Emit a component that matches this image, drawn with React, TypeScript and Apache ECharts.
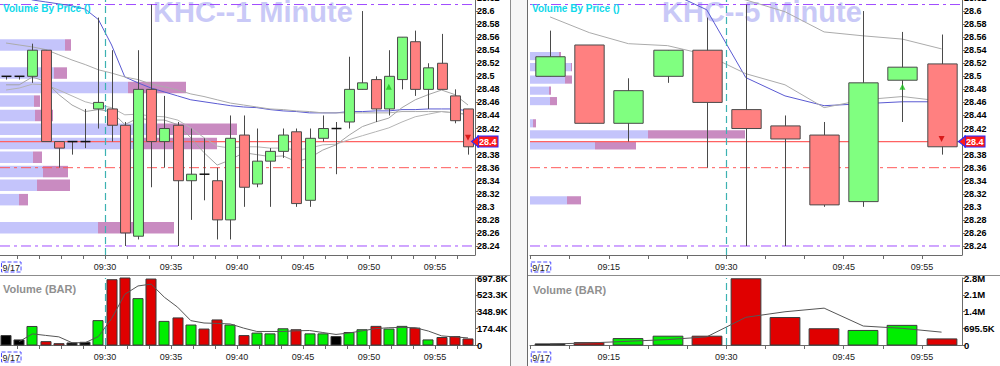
import { useEffect, useRef } from 'react';
import * as echarts from 'echarts';

const FONT = 'Arial, "Liberation Sans", sans-serif';

// ---------------- shared price scale ----------------
const priceTicks = [28.24, 28.26, 28.28, 28.3, 28.32, 28.34, 28.36, 28.38, 28.4, 28.42, 28.44, 28.46, 28.48, 28.5, 28.52, 28.54, 28.56, 28.58, 28.6, 28.62];
const priceAxisMin = 28.2262;
const priceAxisMax = 28.62;
const sessionHigh = 28.61;
const sessionLow = 28.24;
const priorClose = 28.36;
const lastPrice = 28.4;
const marketOpen = '09:30';

// ---------------- LEFT PANEL: KHC 1 minute ----------------
const leftTitle = 'KHC--1 Minute';
const leftTimes = ['09:22', '09:23', '09:24', '09:25', '09:26', '09:27', '09:28', '09:29', '09:30', '09:31', '09:32', '09:33', '09:34', '09:35', '09:36', '09:37', '09:38', '09:39', '09:40', '09:41', '09:42', '09:43', '09:44', '09:45', '09:46', '09:47', '09:48', '09:49', '09:50', '09:51', '09:52', '09:53', '09:54', '09:55', '09:56', '09:57'];
const leftOpen = [28.5, 28.5, 28.5, 28.54, 28.4, 28.4, 28.4, 28.45, 28.45, 28.425, 28.255, 28.48, 28.4, 28.425, 28.34, 28.35, 28.34, 28.28, 28.41, 28.335, 28.37, 28.385, 28.415, 28.31, 28.405, 28.42, 28.43, 28.48, 28.495, 28.45, 28.495, 28.553, 28.48, 28.52, 28.47, 28.45];
const leftHigh = [28.5, 28.5, 28.55, 28.54, 28.4, 28.4, 28.45, 28.59, 28.54, 28.43, 28.54, 28.61, 28.47, 28.43, 28.42, 28.405, 28.36, 28.44, 28.44, 28.42, 28.39, 28.42, 28.42, 28.42, 28.44, 28.43, 28.53, 28.6, 28.5, 28.54, 28.56, 28.57, 28.52, 28.565, 28.48, 28.45];
const leftLow = [28.495, 28.495, 28.49, 28.4, 28.36, 28.38, 28.39, 28.42, 28.4, 28.24, 28.25, 28.33, 28.36, 28.24, 28.28, 28.31, 28.25, 28.25, 28.3, 28.33, 28.3, 28.375, 28.3, 28.3, 28.4, 28.35, 28.42, 28.48, 28.43, 28.44, 28.48, 28.47, 28.45, 28.48, 28.428, 28.38];
const leftClose = [28.5, 28.5, 28.54, 28.4, 28.39, 28.4, 28.4, 28.46, 28.425, 28.26, 28.48, 28.4, 28.42, 28.34, 28.35, 28.35, 28.28, 28.405, 28.33, 28.37, 28.385, 28.41, 28.305, 28.405, 28.42, 28.42, 28.48, 28.49, 28.45, 28.5, 28.56, 28.48, 28.513, 28.48, 28.432, 28.392];
const leftVolume = [98000, 53000, 193000, 35000, 14000, 21000, 28000, 254000, 680000, 697800, 483000, 687000, 246000, 282000, 208000, 166000, 261000, 208000, 98000, 124000, 116000, 169000, 159000, 116000, 116000, 88000, 130000, 159000, 194000, 166000, 194000, 176000, 53000, 78000, 88000, 63000];
const leftVolumeColor = ['k', 'k', 'g', 'r', 'r', 'k', 'k', 'g', 'r', 'r', 'g', 'r', 'g', 'r', 'g', 'r', 'r', 'g', 'r', 'g', 'g', 'g', 'r', 'g', 'g', 'k', 'g', 'g', 'r', 'g', 'g', 'r', 'g', 'r', 'r', 'r'];
const leftVolumeAvg = [null, 35000, 116000, 100000, 85000, 24000, 24000, 88000, 275000, 528000, 615000, 634000, 497000, 394000, 254000, 229000, 225000, 219000, 176000, 141000, 141000, 141000, 148000, 151000, 130000, 110000, 125000, 148000, 170000, 180000, 183000, 180000, 145000, 95000, 84000, 74000];
const leftVwap = [28.632, 28.625, 28.617, 28.614, 28.611, 28.608, 28.603, 28.587, 28.548, 28.499, 28.49, 28.482, 28.476, 28.47, 28.464, 28.461, 28.458, 28.455, 28.453, 28.452, 28.449, 28.447, 28.446, 28.444, 28.444, 28.444, 28.446, 28.446, 28.447, 28.447, 28.449, 28.449, 28.45, 28.45, 28.45, 28.447];
const leftMaSlow = [28.551, 28.548, 28.545, 28.541, 28.533, 28.525, 28.518, 28.51, 28.505, 28.499, 28.495, 28.488, 28.484, 28.479, 28.473, 28.469, 28.464, 28.459, 28.456, 28.453, 28.45, 28.449, 28.447, 28.446, 28.444, 28.444, 28.444, 28.444, 28.444, 28.444, 28.446, 28.446, 28.446, 28.446, 28.444, 28.442];
const leftMaFast = [28.487, 28.487, 28.499, 28.492, 28.472, 28.456, 28.446, 28.449, 28.446, 28.426, 28.436, 28.433, 28.433, 28.426, 28.406, 28.383, 28.364, 28.372, 28.383, 28.38, 28.377, 28.378, 28.369, 28.375, 28.387, 28.395, 28.41, 28.423, 28.43, 28.436, 28.452, 28.464, 28.472, 28.479, 28.472, 28.456];
const leftMaMid = [28.479, 28.482, 28.488, 28.487, 28.479, 28.47, 28.461, 28.456, 28.452, 28.441, 28.442, 28.439, 28.438, 28.433, 28.421, 28.406, 28.393, 28.39, 28.392, 28.392, 28.39, 28.39, 28.387, 28.39, 28.395, 28.396, 28.403, 28.409, 28.415, 28.421, 28.43, 28.438, 28.442, 28.446, 28.444, 28.441];
const leftVbpPrice = [28.548, 28.505, 28.483, 28.462, 28.44, 28.419, 28.397, 28.376, 28.354, 28.333, 28.311, 28.268];
const leftVbpBuy = [65, 54, 128, 34, 35, 147, 143, 33, 43, 37, 19, 98];
const leftVbpSell = [6, 13, 58, 6, 18, 90, 74, 9, 25, 33, 9, 76];
const leftUpTimes = ['09:51'];
const leftUpPrices = [28.484];
const leftDownTimes = ['09:57'];
const leftDownPrices = [28.406];
const leftLabelMinutes = [22.9, 30, 35, 40, 45, 50, 55];
const leftLabels = ['9/17', '09:30', '09:35', '09:40', '09:45', '09:50', '09:55'];
const leftTickMinutes = [23.33, 25, 26.67, 28.33, 30, 31.67, 33.33, 35, 36.67, 38.33, 40, 41.67, 43.33, 45, 46.67, 48.33, 50, 51.67, 53.33, 55, 56.67];
const leftVolTicks = [0, 174450, 348900, 523350, 697800];
const leftVolLabels = ['0', '174.4K', '348.9K', '523.3K', '697.8K'];

// ---------------- RIGHT PANEL: KHC 5 minute ----------------
const rightTitle = 'KHC--5 Minute';
const rightTimes = ['09:05', '09:10', '09:15', '09:20', '09:25', '09:30', '09:35', '09:40', '09:45', '09:50', '09:55'];
const rightOpen = [28.5, 28.548, 28.428, 28.5, 28.54, 28.449, 28.424, 28.41, 28.308, 28.494, 28.519];
const rightHigh = [28.57, 28.548, 28.497, 28.54, 28.59, 28.61, 28.44, 28.43, 28.6, 28.568, 28.564];
const rightLow = [28.5, 28.428, 28.4, 28.49, 28.36, 28.24, 28.24, 28.3, 28.3, 28.43, 28.38];
const rightClose = [28.53, 28.428, 28.478, 28.54, 28.46, 28.42, 28.404, 28.303, 28.49, 28.514, 28.392];
const rightVolume = [45000, 98000, 267000, 366000, 366000, 2750000, 1140000, 675000, 604000, 815000, 253000];
const rightVolumeColor = ['k', 'r', 'g', 'g', 'r', 'r', 'r', 'r', 'g', 'g', 'r'];
const rightVolumeAvg = [42000, 84000, 155000, 225000, 337000, 1150000, 1380000, 1530000, 787000, 690000, 534000];
const rightVwap = [28.68, 28.665, 28.65, 28.63, 28.602, 28.498, 28.47, 28.455, 28.458, 28.461, 28.461];
const rightMaSlow = [null, null, null, null, 28.632, 28.617, 28.599, 28.568, 28.562, 28.557, 28.542];
const rightMaFast = [28.591, 28.567, 28.55, 28.547, 28.533, 28.504, 28.487, 28.452, 28.464, 28.469, 28.462];
const rightVbpPrice = [28.531, 28.514, 28.495, 28.478, 28.462, 28.428, 28.411, 28.394, 28.31];
const rightVbpBuy = [29, 41, 35, 19, 20, 3, 118, 65, 37];
const rightVbpSell = [2, 1, 7, 2, 7, 3, 97, 41, 14];
const rightUpTimes = ['09:50'];
const rightUpPrices = [28.484];
const rightDownTimes = ['09:55'];
const rightDownPrices = [28.404];
const rightLabelMinutes = [6.34, 15, 30, 45, 55];
const rightLabels = ['9/17', '09:15', '09:30', '09:45', '09:55'];
const rightTickMinutes = [5, 10, 15, 20, 25, 30, 35, 40, 45, 50, 55];
const rightVolTicks = [0, 695500, 1391000, 2086500, 2782000];
const rightVolLabels = ['0', '695.5K', '1.4M', '2.1M', '2.8M'];

const VOL_COLORS: Record<string, string> = { g: '#00ee00', r: '#e00000', k: '#000000' };
const toMin = (t: string) => parseInt(t.slice(0, 2), 10) * 60 + parseInt(t.slice(3), 10) - 540;

function buildPanel(cfg: any, gi: number, xi: number, yi: number) {
  const center = (t: string) => toMin(t) + cfg.period / 2;
  const xs = cfg.times.map(center);
  const fmtX = (v: number) => {
    const i = cfg.labelMinutes.findIndex((m: number) => Math.abs(m - v) < 1e-6);
    if (i < 0) return '';
    return i === 0 ? '{d|' + cfg.labels[0] + '}' : cfg.labels[i];
  };
  const xLabel = {
    customValues: cfg.labelMinutes,
    formatter: fmtX,
    fontSize: 9,
    color: '#222',
    fontFamily: FONT,
    margin: 7,
    rich: { d: { fontSize: 9, color: '#222', fontFamily: FONT, borderColor: '#4b4bff', borderWidth: 1, borderType: 'dashed', padding: [1, 1, 0, 1] } },
  };
  const axisLineStyle = { color: '#6a6a6a', width: 1 };
  const grids = [
    { left: cfg.left, top: -2, width: cfg.width, height: 257, containLabel: false, outerBoundsMode: 'none' },
    { left: cfg.left, top: 278, width: cfg.width, height: 67, containLabel: false, outerBoundsMode: 'none' },
  ];
  const xAxes = [
    {
      type: 'value', gridIndex: gi, min: cfg.xMin, max: cfg.xMax,
      axisLine: { show: true, onZero: false, lineStyle: axisLineStyle },
      axisTick: { show: true, customValues: cfg.tickMinutes, length: 4, lineStyle: axisLineStyle },
      axisLabel: xLabel, splitLine: { show: false },
    },
    { type: 'value', gridIndex: gi, min: 0, max: cfg.vbpMax, show: false },
    {
      type: 'value', gridIndex: gi + 1, min: cfg.xMin, max: cfg.xMax,
      axisLine: { show: true, onZero: false, lineStyle: axisLineStyle },
      axisTick: { show: true, customValues: cfg.tickMinutes, length: 4, lineStyle: axisLineStyle },
      axisLabel: xLabel, splitLine: { show: false },
    },
  ];
  const yAxes = [
    {
      type: 'value', gridIndex: gi, position: 'right', min: priceAxisMin, max: priceAxisMax,
      axisLine: { show: true, onZero: false, lineStyle: axisLineStyle },
      axisTick: { show: true, customValues: priceTicks, length: 3, lineStyle: axisLineStyle },
      axisLabel: { customValues: priceTicks, formatter: (v: number) => String(v), fontSize: 9, fontWeight: 'bold', color: '#000', fontFamily: FONT, margin: 2 },
      splitLine: { show: false },
    },
    {
      type: 'value', gridIndex: gi + 1, position: 'right', min: 0, max: cfg.volTicks[cfg.volTicks.length - 1],
      axisLine: { show: true, onZero: false, lineStyle: axisLineStyle },
      axisTick: { show: true, customValues: cfg.volTicks, length: 3, lineStyle: axisLineStyle },
      axisLabel: {
        customValues: cfg.volTicks,
        formatter: (v: number) => {
          const i = cfg.volTicks.findIndex((t: number) => Math.abs(t - v) < 1);
          return i < 0 ? '' : cfg.volLabels[i];
        },
        fontSize: 9.5, fontWeight: 'bold', color: '#000', fontFamily: FONT, margin: 2,
      },
      splitLine: { show: false },
    },
  ];

  const dashDot = [10, 4, 3, 4];
  const series: any[] = [];
  // volume by price
  series.push({
    type: 'custom', xAxisIndex: xi + 1, yAxisIndex: yi, z: 1, silent: true,
    data: cfg.vbpPrice.map((p: number, i: number) => [p, cfg.vbpBuy[i], cfg.vbpSell[i]]),
    encode: { x: [1, 2], y: 0 },
    renderItem: (_p: any, api: any) => {
      const price = api.value(0), buy = api.value(1), sell = api.value(2);
      const h = Math.abs(api.size([0, cfg.vbpBin])[1]);
      const a = api.coord([0, price]);
      const b = api.coord([buy, price]);
      const c = api.coord([buy + sell, price]);
      return {
        type: 'group',
        children: [
          { type: 'rect', shape: { x: a[0], y: a[1] - h / 2, width: b[0] - a[0], height: h }, style: { fill: '#c4c4fb' } },
          { type: 'rect', shape: { x: b[0], y: a[1] - h / 2, width: c[0] - b[0], height: h }, style: { fill: '#c98bc1' } },
        ],
      };
    },
  });
  // horizontal reference levels as plain line series
  const level = (v: number, color: string, type: any, width: number) => ({
    type: 'line', xAxisIndex: xi, yAxisIndex: yi, z: 2, silent: true,
    data: [[cfg.xMin, v], [cfg.xMax, v]], showSymbol: false, symbol: 'none',
    lineStyle: { color, type, width }, itemStyle: { color },
  });
  series.push(level(sessionHigh, '#a04cff', dashDot, 1));
  series.push(level(sessionLow, '#a04cff', dashDot, 1));
  series.push(level(priorClose, '#ff5a5a', dashDot, 1));
  series.push(level(lastPrice, '#ff6262', 'solid', 1.3));
  // moving average / vwap lines
  cfg.maLines.forEach((ln: any, k: number) => {
    const s: any = {
      type: 'line', xAxisIndex: xi, yAxisIndex: yi, z: 2, silent: true,
      data: xs.map((x: number, i: number) => [x, ln.data[i]]),
      showSymbol: false, symbol: 'none', connectNulls: false,
      lineStyle: { color: ln.color, width: 1 }, itemStyle: { color: ln.color },
    };
    if (k === 0) {
      s.markLine = {
        silent: true, symbol: ['none', 'none'], animation: false, z: 5,
        label: { show: false },
        data: [
          { xAxis: toMin(marketOpen), lineStyle: { color: '#3cb2b2', type: [7, 4], width: 1.2 } },
          {
            yAxis: lastPrice, lineStyle: { color: 'rgba(255,80,80,0)', width: 0 },
            label: {
              show: true, position: 'end', distance: 3, formatter: (p: any) => String(p.value),
              color: '#fff', fontWeight: 'bold', fontSize: 9, fontFamily: FONT, opacity: 1,
              backgroundColor: '#ff1a1a', borderColor: '#2a2aff', borderWidth: 1, padding: [1, 1, 0, 1],
            },
          },
        ],
      };
      s.markPoint = {
        silent: true, animation: false, z: 6,
        data: [{
          coord: [cfg.xMax, lastPrice], symbol: 'path://M0,5L7,0L7,10Z', symbolSize: [7, 11],
          itemStyle: { color: '#ff1a1a', borderColor: '#2a2aff', borderWidth: 1 }, label: { show: false },
        }],
      };
    }
    series.push(s);
  });
  // candles
  series.push({
    type: 'custom', xAxisIndex: xi, yAxisIndex: yi, z: 3, silent: true,
    data: xs.map((x: number, i: number) => [x, cfg.open[i], cfg.high[i], cfg.low[i], cfg.close[i]]),
    encode: { x: 0, y: [1, 2, 3, 4] },
    renderItem: (_p: any, api: any) => {
      const x = api.value(0), o = api.value(1), h = api.value(2), l = api.value(3), c = api.value(4);
      const po = api.coord([x, o]), pc = api.coord([x, c]), ph = api.coord([x, h]), pl = api.coord([x, l]);
      const w = api.size([cfg.period, 0])[0] * 0.75;
      const cx = Math.round(po[0]) + 0.5;
      const children: any[] = [
        { type: 'line', shape: { x1: cx, y1: ph[1], x2: cx, y2: pl[1] }, style: { stroke: '#4a4a4a', lineWidth: 1 } },
      ];
      if (o === c) {
        children.push({ type: 'line', shape: { x1: cx - w / 2, y1: po[1], x2: cx + w / 2, y2: po[1] }, style: { stroke: '#111', lineWidth: 1.5 } });
      } else {
        const top = Math.min(po[1], pc[1]);
        const hh = Math.max(Math.abs(po[1] - pc[1]), 1);
        children.push({
          type: 'rect', shape: { x: cx - w / 2, y: top, width: w, height: hh },
          style: { fill: c > o ? '#80ff80' : '#ff8080', stroke: '#4a4a4a', lineWidth: 1 },
        });
      }
      return { type: 'group', children };
    },
  });
  // signal triangles
  series.push({
    type: 'scatter', xAxisIndex: xi, yAxisIndex: yi, z: 4, silent: true, symbol: 'triangle', symbolSize: 6,
    data: cfg.upTimes.map((t: string, i: number) => [center(t), cfg.upPrices[i]]),
    itemStyle: { color: '#19c019' },
  });
  series.push({
    type: 'scatter', xAxisIndex: xi, yAxisIndex: yi, z: 4, silent: true, symbol: 'triangle', symbolSize: 6, symbolRotate: 180,
    data: cfg.downTimes.map((t: string, i: number) => [center(t), cfg.downPrices[i]]),
    itemStyle: { color: '#d00000' },
  });
  // volume bars
  series.push({
    type: 'custom', xAxisIndex: xi + 2, yAxisIndex: yi + 1, z: 2, silent: true,
    data: xs.map((x: number, i: number) => [x, cfg.volume[i]]),
    encode: { x: 0, y: 1 },
    renderItem: (params: any, api: any) => {
      const x = api.value(0), v = api.value(1);
      const top = api.coord([x, v]);
      const base = api.coord([x, 0]);
      const w = api.size([cfg.period, 0])[0] * 0.76;
      const cx = Math.round(top[0]);
      return {
        type: 'rect', shape: { x: cx - w / 2, y: top[1], width: w, height: base[1] - top[1] },
        style: { fill: VOL_COLORS[cfg.volColor[params.dataIndex]], stroke: '#3a3a3a', lineWidth: 1 },
      };
    },
  });
  // volume average
  series.push({
    type: 'line', xAxisIndex: xi + 2, yAxisIndex: yi + 1, z: 3, silent: true,
    data: xs.map((x: number, i: number) => [x, cfg.volAvg[i]]),
    showSymbol: false, symbol: 'none', connectNulls: false,
    lineStyle: { color: '#555', width: 1 }, itemStyle: { color: '#555' },
    markLine: {
      silent: true, symbol: ['none', 'none'], animation: false, label: { show: false },
      data: [{ xAxis: toMin(marketOpen), lineStyle: { color: '#3cb2b2', type: [7, 4], width: 1.2 } }],
    },
  });
  return { grids, xAxes, yAxes, series };
}

const leftCfg = {
  period: 1, times: leftTimes, open: leftOpen, high: leftHigh, low: leftLow, close: leftClose,
  volume: leftVolume, volColor: leftVolumeColor, volAvg: leftVolumeAvg,
  maLines: [
    { data: leftVwap, color: '#5a5ad2' },
    { data: leftMaSlow, color: '#ababab' },
    { data: leftMaMid, color: '#b4b4b4' },
    { data: leftMaFast, color: '#a4a4a4' },
  ],
  vbpPrice: leftVbpPrice, vbpBuy: leftVbpBuy, vbpSell: leftVbpSell, vbpMax: 475, vbpBin: 0.0176,
  upTimes: leftUpTimes, upPrices: leftUpPrices, downTimes: leftDownTimes, downPrices: leftDownPrices,
  xMin: 22.045, xMax: 58.03, tickMinutes: leftTickMinutes, labelMinutes: leftLabelMinutes, labels: leftLabels,
  volTicks: leftVolTicks, volLabels: leftVolLabels, left: 0, width: 475,
};
const rightCfg = {
  period: 5, times: rightTimes, open: rightOpen, high: rightHigh, low: rightLow, close: rightClose,
  volume: rightVolume, volColor: rightVolumeColor, volAvg: rightVolumeAvg,
  maLines: [
    { data: rightVwap, color: '#5a5ad2' },
    { data: rightMaSlow, color: '#ababab' },
    { data: rightMaFast, color: '#ababab' },
  ],
  vbpPrice: rightVbpPrice, vbpBuy: rightVbpBuy, vbpSell: rightVbpSell, vbpMax: 432, vbpBin: 0.0125,
  upTimes: rightUpTimes, upPrices: rightUpPrices, downTimes: rightDownTimes, downPrices: rightDownPrices,
  xMin: 4.936, xMax: 60.11, tickMinutes: rightTickMinutes, labelMinutes: rightLabelMinutes, labels: rightLabels,
  volTicks: rightVolTicks, volLabels: rightVolLabels, left: 530, width: 432,
};

export default function App() {
  const ref = useRef<HTMLDivElement>(null);
  useEffect(() => {
    document.body.style.margin = '0';
    if (!ref.current) return;
    const chart = echarts.init(ref.current, undefined, { renderer: 'svg' });
    const L = buildPanel(leftCfg, 0, 0, 0);
    const R = buildPanel(rightCfg, 2, 3, 2);
    const text = (x: number, y: number, s: string, size: number, weight: string, fill: string, z = 0) => ({
      type: 'text', x, y, z, silent: true,
      style: { text: s, fontSize: size, fontWeight: weight, fontFamily: FONT, fill, align: 'left', verticalAlign: 'middle' },
    });
    const line = (x1: number, y1: number, x2: number, y2: number, stroke: string) => ({
      type: 'line', silent: true, z: 20, shape: { x1, y1, x2, y2 }, style: { stroke, lineWidth: 1 },
    });
    chart.setOption({
      animation: false,
      backgroundColor: '#ffffff',
      grid: [...L.grids, ...R.grids],
      xAxis: [...L.xAxes, ...R.xAxes],
      yAxis: [...L.yAxes, ...R.yAxes],
      series: [...L.series, ...R.series],
      graphic: [
        text(153, 12, leftTitle, 29, 'bold', '#c9c9f7'),
        text(662, 12, rightTitle, 29, 'bold', '#c9c9f7'),
        text(3, 8, 'Volume By Price ()', 10, 'bold', '#10d8ea', 30),
        text(532, 8, 'Volume By Price ()', 10, 'bold', '#10d8ea', 30),
        text(3, 289, 'Volume (BAR)', 11, 'bold', '#909090', 30),
        text(533, 290, 'Volume (BAR)', 11, 'bold', '#909090', 30),
        { type: 'rect', silent: true, z: 19, shape: { x: 511, y: 0, width: 16, height: 366 }, style: { fill: '#f6f6f6' } },
        line(0, 275.5, 510, 275.5, '#8c8c8c'),
        line(527, 275.5, 1000, 275.5, '#8c8c8c'),
        line(510.5, 0, 510.5, 366, '#8c8c8c'),
        line(527.5, 0, 527.5, 366, '#6a6a6a'),
      ],
    });
    return () => chart.dispose();
  }, []);
  return <div ref={ref} style={{ width: 1000, height: 366 }} />;
}
